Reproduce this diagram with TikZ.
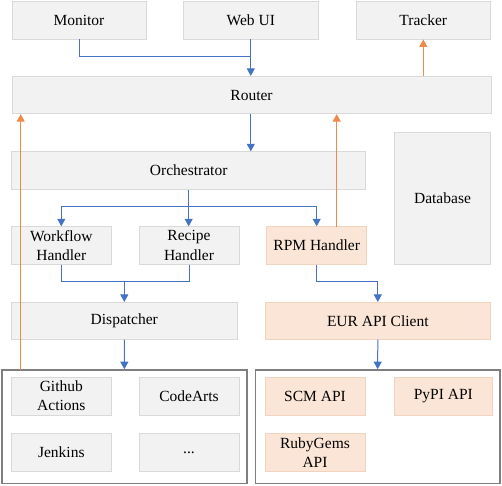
\documentclass[tikz,border=0pt]{standalone}
\usepackage{fontspec}
\setmainfont{Liberation Serif}
\usetikzlibrary{arrows.meta}
\definecolor{gfill}{HTML}{F2F2F2}
\definecolor{gdraw}{HTML}{D9D9D9}
\definecolor{ofill}{HTML}{FBE5D6}
\definecolor{odraw}{HTML}{F1D3BE}
\definecolor{bluec}{HTML}{4472C4}
\definecolor{orangec}{HTML}{F08A4B}
\definecolor{grpc}{HTML}{7F7F7F}
\tikzset{
  base/.style={draw, line width=0.8pt, inner sep=0pt, align=center, font=\fontsize{15.5}{19.3}\selectfont, text=black},
  gbox/.style={base, fill=gfill, draw=gdraw},
  obox/.style={base, fill=ofill, draw=odraw},
  grp/.style={draw=grpc, line width=1.6pt, inner sep=0pt},
  bline/.style={draw=bluec, line width=1pt},
  barrow/.style={bline, -{Triangle[width=8pt,length=7.5pt]}},
  oarrow/.style={draw=orangec, line width=0.9pt, -{Triangle[width=8pt,length=7.5pt]}}
}
\begin{document}
\begin{tikzpicture}[x=1pt,y=-1pt]
\useasboundingbox (0,0) rectangle (502,485);
% groups
\node[grp, minimum width=244.7pt, minimum height=113.3pt] (lgroup) at (124.35,426.65) {};
\node[grp, minimum width=244.7pt, minimum height=113.3pt] (rgroup) at (377.65,426.65) {};
% top row
\node[gbox, minimum width=134pt, minimum height=38pt] (monitor) at (79,20) {Monitor};
\node[gbox, minimum width=135pt, minimum height=38pt] (webui) at (250.8,20) {Web UI};
\node[gbox, minimum width=134.7pt, minimum height=38pt] (tracker) at (423.3,20) {Tracker};
\node[gbox, minimum width=479pt, minimum height=37.4pt] (router) at (251.5,95) {Router};
\node[gbox, minimum width=354pt, minimum height=37.6pt] (orch) at (188.7,170.5) {Orchestrator};
\node[gbox, minimum width=96.4pt, minimum height=131.6pt] (db) at (442.5,198.5) {Database};
\node[gbox, minimum width=99.3pt, minimum height=37.6pt] (workflow) at (61.3,245.5) {Workflow\\Handler};
\node[gbox, minimum width=100pt, minimum height=37.6pt] (recipe) at (189,245.5) {Recipe\\Handler};
\node[obox, minimum width=100pt, minimum height=37.6pt] (rpm) at (316.7,245.5) {RPM Handler};
\node[gbox, minimum width=225.3pt, minimum height=37pt] (dispatcher) at (124.3,320.8) {Dispatcher};
\node[obox, minimum width=225.7pt, minimum height=37pt] (eur) at (377.8,320.8) {EUR API Client};
% left group contents
\node[gbox, minimum width=99.3pt, minimum height=38pt] (github) at (61.3,396) {Github\\Actions};
\node[gbox, minimum width=100pt, minimum height=38pt] (codearts) at (189,396) {CodeArts};
\node[gbox, minimum width=99.3pt, minimum height=38pt] (jenkins) at (61.3,452.3) {Jenkins};
\node[gbox, minimum width=100pt, minimum height=38pt] (more) at (189,452.3) {...};
% right group contents
\node[obox, minimum width=100pt, minimum height=38pt] (scm) at (315,396) {SCM API};
\node[obox, minimum width=98pt, minimum height=38pt] (pypi) at (443.3,396) {PyPI API};
\node[obox, minimum width=100pt, minimum height=38pt] (ruby) at (315,452.3) {RubyGems\\API};
% junctions
\coordinate (j1) at (250.8,56);
\coordinate (j2) at (188.7,206);
\coordinate (j3) at (124.3,281);
\coordinate (j4) at (377.8,281);
\coordinate (o1) at (20.7,370);
\coordinate (o2) at (336.7,226.7);
\coordinate (t1) at (423.3,76.3);
% blue connectors
\draw[bline] (monitor.south) |- (j1);
\draw[barrow] (webui.south) -- (router.north -| webui.south);
\draw[barrow] (router.south -| webui.south) -- (orch.north -| webui.south);
\draw[barrow] (orch.south) -- (recipe.north -| orch.south);
\draw[barrow] (j2) -| (workflow.north);
\draw[barrow] (j2) -| (rpm.north);
\draw[bline] (workflow.south) |- (j3);
\draw[bline] (recipe.south) |- (j3);
\draw[barrow] (j3) -- (dispatcher.north);
\draw[barrow] (dispatcher.south) -- (lgroup.north);
\draw[bline] (rpm.south) |- (j4);
\draw[barrow] (j4) -- (eur.north);
\draw[barrow] (eur.south) -- (rgroup.north);
% orange connectors
\draw[oarrow] (t1) -- (tracker.south);
\draw[oarrow] (o1) -- (o1 |- router.south);
\draw[oarrow] (o2) -- (o2 |- router.south);
\end{tikzpicture}
\end{document}
